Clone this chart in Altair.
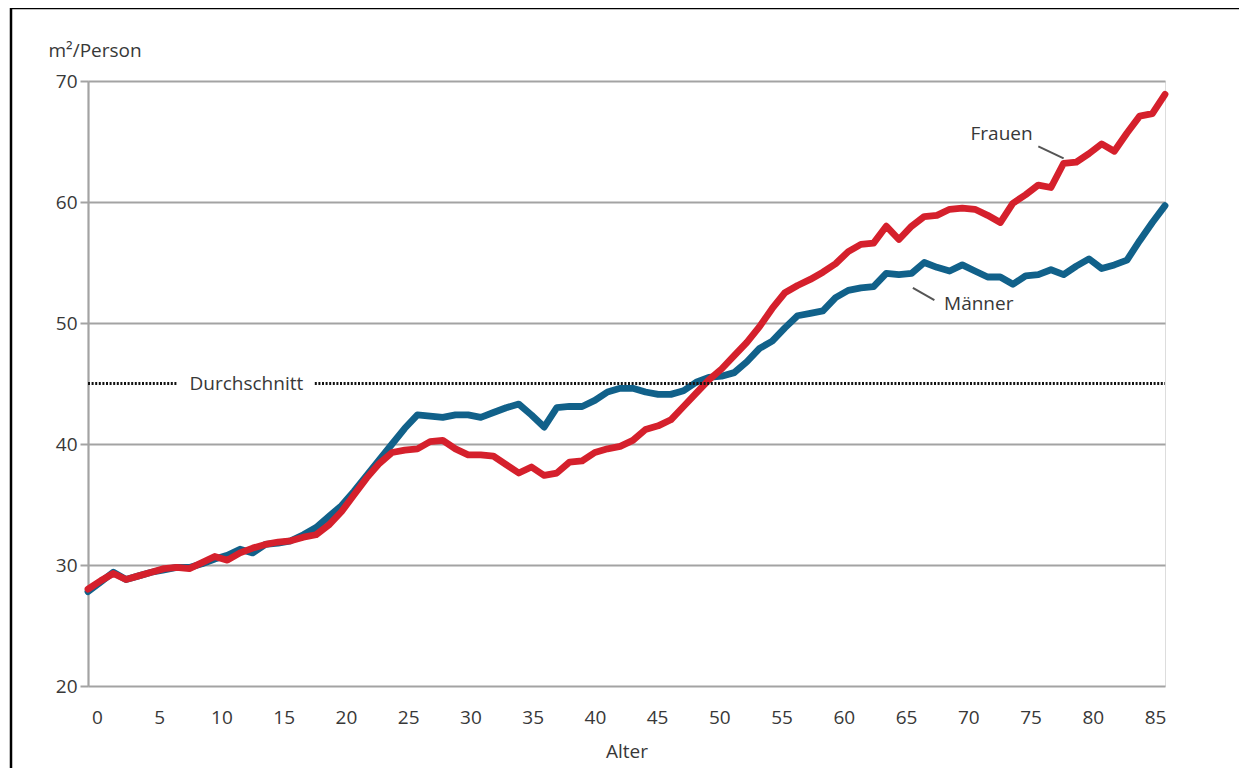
import altair as alt
import pandas as pd

ages = list(range(0, 86))

frauen = [28.0, 28.7, 29.3, 28.8, 29.1, 29.4, 29.7, 29.8, 29.7, 30.2,
          30.7, 30.4, 31.0, 31.4, 31.7, 31.9, 32.0, 32.3, 32.5, 33.3,
          34.4, 35.8, 37.2, 38.4, 39.3, 39.5, 39.6, 40.2, 40.3, 39.6,
          39.1, 39.1, 39.0, 38.3, 37.6, 38.1, 37.4, 37.6, 38.5, 38.6,
          39.3, 39.6, 39.8, 40.3, 41.2, 41.5, 42.0, 43.1, 44.2, 45.3,
          46.2, 47.3, 48.4, 49.7, 51.2, 52.5, 53.1, 53.6, 54.2, 54.9,
          55.9, 56.5, 56.6, 58.0, 56.9, 58.0, 58.8, 58.9, 59.4, 59.5,
          59.4, 58.9, 58.3, 59.9, 60.6, 61.4, 61.2, 63.2, 63.3, 64.0,
          64.8, 64.2, 65.7, 67.1, 67.3, 68.9]

maenner = [27.8, 28.6, 29.4, 28.8, 29.1, 29.4, 29.6, 29.8, 29.8, 30.1,
           30.5, 30.8, 31.3, 31.0, 31.7, 31.8, 32.0, 32.5, 33.1, 34.0,
           34.9, 36.1, 37.4, 38.7, 40.0, 41.3, 42.4, 42.3, 42.2, 42.4,
           42.4, 42.2, 42.6, 43.0, 43.3, 42.4, 41.4, 43.0, 43.1, 43.1,
           43.6, 44.3, 44.6, 44.6, 44.3, 44.1, 44.1, 44.4, 45.1, 45.5,
           45.6, 45.9, 46.8, 47.9, 48.5, 49.6, 50.6, 50.8, 51.0, 52.1,
           52.7, 52.9, 53.0, 54.1, 54.0, 54.1, 55.0, 54.6, 54.3, 54.8,
           54.3, 53.8, 53.8, 53.2, 53.9, 54.0, 54.4, 54.0, 54.7, 55.3,
           54.5, 54.8, 55.2, 56.8, 58.3, 59.7]

series_names = ["Männer", "Frauen"]
series_colors = ["#11618a", "#d5202c"]

durchschnitt = 45
avg_label = "Durchschnitt"
avg_segments_start = [0, 17.9]
avg_segments_end = [7.1, 85]
avg_label_age = 12.5

label_texts = ["Frauen", "Männer"]
label_ages = [72.1, 70.3]
label_values = [65.6, 51.6]
leader_age1 = [75.0, 65.1]
leader_val1 = [64.6, 52.9]
leader_age2 = [77.0, 66.8]
leader_val2 = [63.6, 51.9]

x_ticks = list(range(0, 86, 5))
y_ticks = [20, 30, 40, 50, 60, 70]

FONT = "Open Sans"
TXT = "#383838"
FS = 19

rows = []
for name, vals in zip(series_names, [maenner, frauen]):
    for a, v in zip(ages, vals):
        rows.append({"Alter": a, "Wert": v, "Serie": name})
df = pd.DataFrame(rows)

x_scale = alt.Scale(domain=[0, 85], nice=False, zero=False)
y_scale = alt.Scale(domain=[20, 70], nice=False, zero=False)
# label axis placed like the original (labels slightly inset at both ends)
label_scale = alt.Scale(domain=[-0.723, 85.803], nice=False, zero=False)

lines = alt.Chart(df).mark_line(strokeWidth=6.8, strokeJoin="round", strokeCap="round").encode(
    x=alt.X("Alter:Q", scale=x_scale, axis=None),
    y=alt.Y("Wert:Q", scale=y_scale,
            axis=alt.Axis(title="m²/Person", values=y_ticks, grid=True,
                          gridColor="#a3a3a3", gridWidth=2.2, gridOpacity=1,
                          domain=True, domainColor="#a3a3a3", domainWidth=2.2,
                          ticks=True, tickSize=8, tickColor="#a3a3a3", tickWidth=2,
                          labelPadding=3, labelFontSize=FS, labelColor=TXT,
                          labelFont=FONT, titleFont=FONT, titleFontSize=FS,
                          titleFontWeight="normal", titleColor=TXT,
                          titleAngle=0, titleAlign="left", titleBaseline="bottom",
                          titleX=-40, titleY=-21)),
    color=alt.Color("Serie:N", scale=alt.Scale(domain=series_names, range=series_colors),
                    legend=None),
    order=alt.Order("Alter:Q"),
)

tick_axis = alt.Chart(pd.DataFrame({"t": x_ticks})).mark_point(opacity=0).encode(
    x=alt.X("t:Q", scale=label_scale,
            axis=alt.Axis(title="Alter", orient="bottom", values=x_ticks, grid=False,
                          ticks=False, domain=False, labelPadding=22,
                          labelFontSize=FS, labelColor=TXT, labelFont=FONT,
                          titleFont=FONT, titleFontSize=FS, titleFontWeight="normal",
                          titleColor=TXT, titlePadding=15)),
    y=alt.value(0),
)

avg_df = pd.DataFrame({"a1": avg_segments_start, "a2": avg_segments_end,
                       "v": [durchschnitt] * len(avg_segments_start)})
avg_rule = alt.Chart(avg_df).mark_rule(color="#111111", strokeWidth=2.8,
                                       strokeDash=[2, 1.6]).encode(
    x=alt.X("a1:Q", scale=x_scale, axis=None), x2="a2:Q",
    y=alt.Y("v:Q", scale=y_scale))

avg_text = alt.Chart(pd.DataFrame({"a": [avg_label_age], "v": [durchschnitt],
                                   "t": [avg_label]})).mark_text(
    font=FONT, fontSize=FS, color=TXT, align="center", baseline="middle").encode(
    x=alt.X("a:Q", scale=x_scale, axis=None), y=alt.Y("v:Q", scale=y_scale), text="t:N")

lab_df = pd.DataFrame({"t": label_texts, "a": label_ages, "v": label_values,
                       "a1": leader_age1, "v1": leader_val1,
                       "a2": leader_age2, "v2": leader_val2})
leaders = alt.Chart(lab_df).mark_rule(color="#555555", strokeWidth=2).encode(
    x=alt.X("a1:Q", scale=x_scale, axis=None), x2="a2:Q",
    y=alt.Y("v1:Q", scale=y_scale), y2="v2:Q")
labels = alt.Chart(lab_df).mark_text(font=FONT, fontSize=FS, color=TXT,
                                     align="center", baseline="middle").encode(
    x=alt.X("a:Q", scale=x_scale, axis=None), y=alt.Y("v:Q", scale=y_scale), text="t:N")

frame = alt.Chart(pd.DataFrame({"k": [0]})).mark_rect(
    fill=None, stroke="#000000", strokeWidth=2.5).encode(
    x=alt.value(-77), x2=alt.value(1155), y=alt.value(-73), y2=alt.value(720))

main = alt.layer(lines, avg_rule, avg_text, leaders, labels, frame)

chart = alt.layer(main, tick_axis).resolve_scale(x="independent").properties(
    width=1077, height=605,
    autosize=alt.AutoSizeParams(type="none"),
    padding={"left": 80, "top": 73, "right": 74, "bottom": 82},
).configure_view(stroke=None).configure(background="white")

chart.save("out.html", embed_options={"renderer": "svg", "actions": False})
